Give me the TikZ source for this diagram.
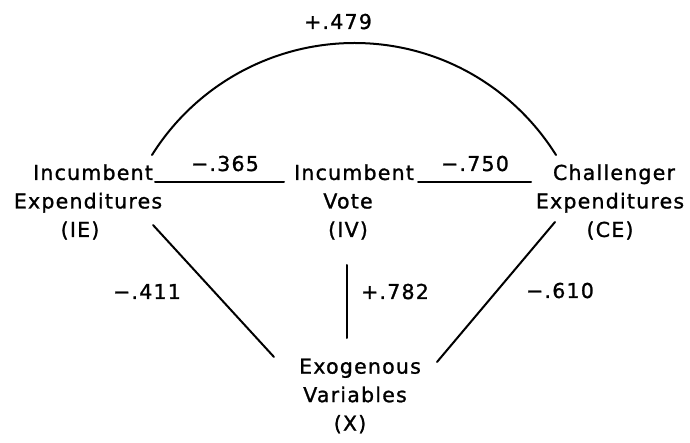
\documentclass[tikz,border=0pt]{standalone}
\usepackage{fontspec}
\setmainfont{DejaVu Sans}[LetterSpace=6,FakeBold=1.2]
\begin{document}
\begin{tikzpicture}[x=1pt,y=-1pt,
  every node/.style={inner sep=0pt, font=\fontsize{20.5}{28.5}\selectfont},
  conn/.style={line width=2pt, line cap=round},
  var/.style={align=center},
  coef/.style={anchor=base}]
\useasboundingbox (0,0) rectangle (690,443);
% variables
\node[var] (IE) at (88,202) {\hspace*{10pt}Incumbent\\Expenditures\\(IE)\hspace*{16pt}};
\node[var] (IV) at (348,202) {\hspace*{12pt}Incumbent\\Vote\\(IV)};
\node[var] (CE) at (610,202) {\hspace*{8pt}Challenger\\Expenditures\\(CE)};
\node[var] (X) at (355,396) {\hspace*{10pt}Exogenous\\Variables\hspace*{10pt}\\(X)\hspace*{10pt}};
% connector end points
\coordinate (ieR) at (155,182); \coordinate (ivL) at (284,182);
\coordinate (ivR) at (418,182); \coordinate (ceL) at (531,182);
\coordinate (ivB) at (347,265); \coordinate (xT) at (347,338);
\coordinate (ieB) at (153,225); \coordinate (xL) at (274,357);
\coordinate (ceB) at (555,222); \coordinate (xR) at (437,362);
\coordinate (arcL) at (152,155); \coordinate (arcTop) at (354.5,43); \coordinate (arcR) at (556,155);
% connectors
\draw[conn] (arcL) .. controls (195.7,85.3) and (272.2,43) .. (arcTop)
  .. controls (436.8,43) and (512.3,85.3) .. (arcR);
\draw[conn] (ieR) -- (ivL);
\draw[conn] (ivR) -- (ceL);
\draw[conn] (ivB) -- (xT);
\draw[conn] (ieB) -- (xL);
\draw[conn] (ceB) -- (xR);
% coefficients
\node[coef] (rA) at (338,29) {+.479};
\node[coef] (rB) at (225,171) {−.365};
\node[coef] (rC) at (475,171) {−.750};
\node[coef] (rD) at (147,299) {−.411};
\node[coef] (rE) at (395,299) {+.782};
\node[coef] (rF) at (560,298) {−.610};
\end{tikzpicture}
\end{document}
